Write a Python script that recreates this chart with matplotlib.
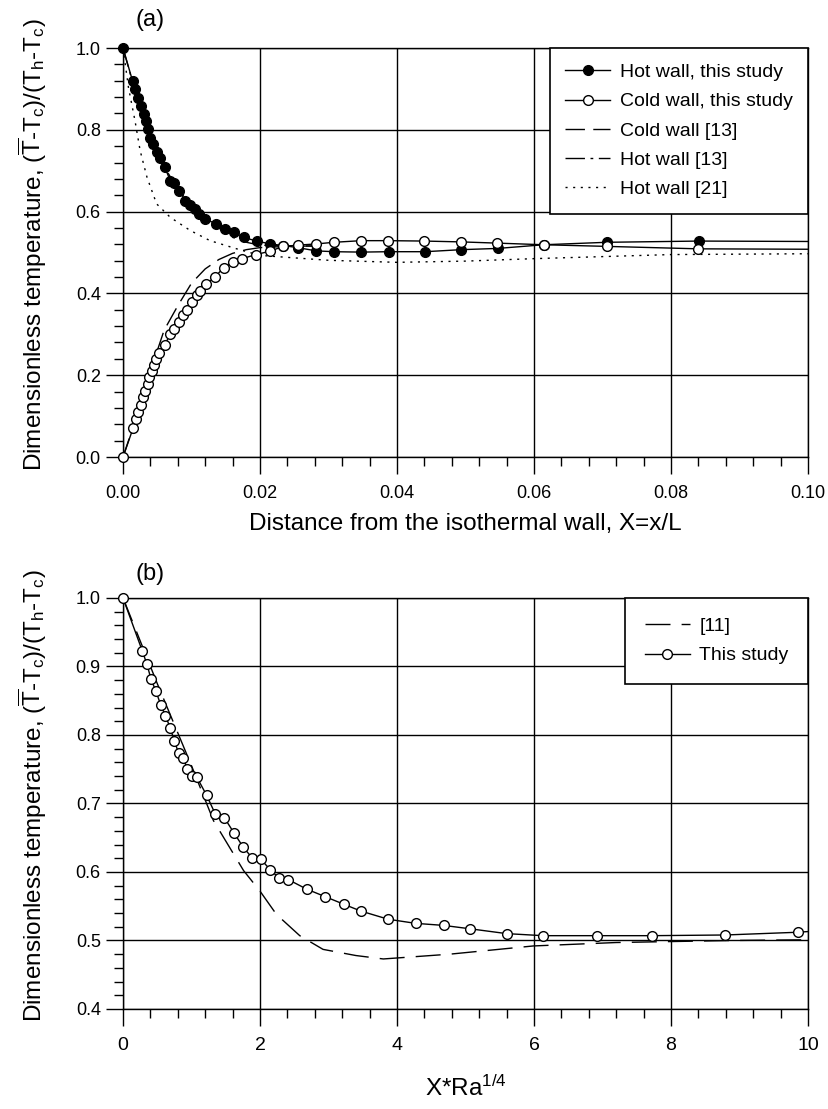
import matplotlib
matplotlib.use("Agg")
import matplotlib.pyplot as plt
from matplotlib.ticker import MultipleLocator

plt.rcParams['font.family'] = ['Liberation Sans', 'DejaVu Sans']
plt.rcParams['mathtext.default'] = 'regular'

# ---- panel (a) data ----
hot_x = [0.0, 0.0014, 0.00175, 0.0022, 0.0026, 0.0030, 0.0034, 0.0037, 0.0040, 0.0044,
         0.0049, 0.0054, 0.0061, 0.0069, 0.0075, 0.0082, 0.0091, 0.0098, 0.0105, 0.0111,
         0.0120, 0.0136, 0.0149, 0.0162, 0.0176, 0.0195, 0.0215, 0.0234, 0.0255, 0.0282,
         0.0308, 0.0348, 0.0388, 0.0441, 0.0494, 0.0547, 0.0614, 0.0706, 0.0841, 0.100]
hot_y = [1.0, 0.919, 0.899, 0.879, 0.859, 0.838, 0.822, 0.802, 0.781, 0.765,
         0.745, 0.732, 0.708, 0.676, 0.671, 0.651, 0.627, 0.615, 0.607, 0.593,
         0.582, 0.570, 0.558, 0.550, 0.537, 0.528, 0.521, 0.517, 0.512, 0.504,
         0.502, 0.501, 0.502, 0.502, 0.507, 0.510, 0.519, 0.525, 0.528, 0.527]

cold_x = [0.0, 0.0015, 0.0019, 0.0022, 0.0026, 0.0029, 0.0032, 0.0036, 0.0038, 0.0042,
          0.0045, 0.0048, 0.0052, 0.0061, 0.0069, 0.0074, 0.0081, 0.0087, 0.0094, 0.0101,
          0.0108, 0.0113, 0.0121, 0.0134, 0.0147, 0.0161, 0.0174, 0.0194, 0.0214, 0.0234,
          0.0255, 0.0282, 0.0308, 0.0348, 0.0387, 0.0440, 0.0493, 0.0546, 0.0614, 0.0706,
          0.0840, 0.100]
cold_y = [0.0, 0.072, 0.092, 0.110, 0.127, 0.146, 0.161, 0.178, 0.196, 0.211,
          0.224, 0.239, 0.255, 0.275, 0.300, 0.312, 0.330, 0.348, 0.359, 0.379,
          0.395, 0.407, 0.422, 0.440, 0.463, 0.476, 0.485, 0.495, 0.503, 0.515,
          0.518, 0.521, 0.525, 0.529, 0.529, 0.528, 0.526, 0.523, 0.519, 0.515,
          0.509, 0.508]

ref13_x = [0.0, 0.002, 0.004, 0.006, 0.008, 0.010, 0.012, 0.014, 0.016, 0.018, 0.020, 0.024, 0.028]
cold13_y = [0.0, 0.10, 0.21, 0.31, 0.37, 0.425, 0.46, 0.483, 0.498, 0.507, 0.512, 0.515, 0.516]
hot13_y = [1.0, 0.88, 0.79, 0.71, 0.655, 0.615, 0.585, 0.560, 0.537, 0.525, 0.518, 0.516, 0.516]

ref21_x = [0.0, 0.0008, 0.00175, 0.0025, 0.0035, 0.0049, 0.0069, 0.0098, 0.0127, 0.0166,
           0.020, 0.0258, 0.030, 0.040, 0.050, 0.060, 0.070, 0.080, 0.090, 0.100]
ref21_y = [1.0, 0.903, 0.822, 0.749, 0.684, 0.619, 0.586, 0.554, 0.529, 0.509,
           0.493, 0.486, 0.481, 0.476, 0.479, 0.485, 0.490, 0.495, 0.496, 0.497]

# ---- panel (b) data ----
study_x = [0.0, 0.28, 0.35, 0.41, 0.48, 0.55, 0.62, 0.69, 0.75, 0.81, 0.88, 0.94, 1.01, 1.08,
           1.22, 1.35, 1.48, 1.62, 1.75, 1.88, 2.01, 2.15, 2.28, 2.41, 2.68, 2.95, 3.22,
           3.47, 3.87, 4.27, 4.68, 5.07, 5.60, 6.13, 6.92, 7.72, 8.79, 9.85, 10.0]
study_y = [1.0, 0.923, 0.903, 0.881, 0.864, 0.844, 0.828, 0.810, 0.791, 0.774, 0.766, 0.750,
           0.740, 0.738, 0.712, 0.684, 0.679, 0.657, 0.637, 0.621, 0.619, 0.603, 0.591,
           0.589, 0.575, 0.564, 0.553, 0.543, 0.531, 0.525, 0.522, 0.517, 0.510, 0.507,
           0.507, 0.507, 0.508, 0.512, 0.513]

ref11_x = [0.0, 0.5, 1.0, 1.32, 1.76, 2.0, 2.24, 2.58, 2.92, 3.4, 3.8, 4.77, 5.99, 7.2, 8.9, 10.0]
ref11_y = [1.0, 0.875, 0.755, 0.675, 0.602, 0.572, 0.538, 0.507, 0.487, 0.478, 0.473,
           0.480, 0.492, 0.497, 0.500, 0.501]

fig = plt.figure(figsize=(8.29, 11.09), dpi=100)
ax1 = fig.add_axes([0.1484, 0.5879, 0.8263, 0.3688])
ax2 = fig.add_axes([0.1484, 0.0902, 0.8263, 0.3706])

# last point sits on the right edge and carries no marker
ax1.plot(hot_x, hot_y, '-o', color='black', lw=1.0, ms=7, mfc='black', mec='black',
         markevery=list(range(len(hot_x) - 1)), clip_on=False,
         label='Hot wall, this study', zorder=4)
ax1.plot(cold_x, cold_y, '-o', color='black', lw=1.0, ms=7, mfc='white', mec='black',
         mew=1.0, markevery=list(range(len(cold_x) - 1)), clip_on=False,
         label='Cold wall, this study', zorder=5)
ax1.plot(ref13_x, cold13_y, color='black', lw=1.0, dashes=(14, 6), label='Cold wall [13]', zorder=3)
ax1.plot(ref13_x, hot13_y, color='black', lw=1.0, dashes=(14, 4, 2, 4), label='Hot wall [13]', zorder=3)
ax1.plot(ref21_x, ref21_y, color='black', lw=1.0, dashes=(1.5, 4), label='Hot wall [21]', zorder=3)

ax2.plot(ref11_x, ref11_y, color='black', lw=1.0, dashes=(18, 8), label='[11]', zorder=3)
ax2.plot(study_x, study_y, '-o', color='black', lw=1.0, ms=7, mfc='white', mec='black',
         mew=1.0, markevery=list(range(len(study_x) - 1)), clip_on=False,
         label='This study', zorder=5)

ax1.set_xlim(0, 0.1)
ax1.set_ylim(0, 1.0)
ax1.xaxis.set_major_locator(MultipleLocator(0.02))
ax1.xaxis.set_minor_locator(MultipleLocator(0.004))
ax1.yaxis.set_major_locator(MultipleLocator(0.2))
ax1.yaxis.set_minor_locator(MultipleLocator(0.04))
ax1.xaxis.set_major_formatter(plt.FuncFormatter(lambda v, p: f'{v:.2f}'))
ax1.yaxis.set_major_formatter(plt.FuncFormatter(lambda v, p: f'{v:.1f}'))

ax2.set_xlim(0, 10)
ax2.set_ylim(0.4, 1.0)
ax2.xaxis.set_major_locator(MultipleLocator(2))
ax2.xaxis.set_minor_locator(MultipleLocator(0.4))
ax2.yaxis.set_major_locator(MultipleLocator(0.1))
ax2.yaxis.set_minor_locator(MultipleLocator(0.02))
ax2.yaxis.set_major_formatter(plt.FuncFormatter(lambda v, p: f'{v:.1f}'))

ylab = r'Dimensionless temperature, ($\overline{T}$-T$_c$)/(T$_h$-T$_c$)'
for ax in (ax1, ax2):
    ax.grid(True, which='major', color='black', lw=1.0)
    ax.set_axisbelow(True)
    for s in ax.spines.values():
        s.set_linewidth(1.0)
    ax.tick_params(which='major', direction='out', length=12, width=1.0, labelsize=13, pad=8)
    ax.tick_params(which='minor', direction='out', length=6.5, width=1.0)
    ax.tick_params(axis='y', which='major', pad=4)
    ax.set_ylabel(ylab, fontsize=17.5)
    ax.yaxis.set_label_coords(-0.108, 0.52)

ax1.set_xlabel('Distance from the isothermal wall, X=x/L', fontsize=17.5, labelpad=8)
ax2.set_xlabel(r'X*Ra$^{1/4}$', fontsize=17.5, labelpad=16)
ax2.tick_params(axis='x', which='major', labelsize=14)

leg1 = ax1.legend(loc='upper right', borderaxespad=0, fancybox=False, edgecolor='black',
                  framealpha=1, fontsize=14, handlelength=2.3, handletextpad=0.5,
                  borderpad=0.8, labelspacing=0.6)
leg1.get_frame().set_linewidth(1.2)
leg2 = ax2.legend(loc='upper right', borderaxespad=0, fancybox=False, edgecolor='black',
                  framealpha=1, fontsize=14, handlelength=2.3, handletextpad=0.5,
                  borderpad=1.0, labelspacing=0.6)
leg2.get_frame().set_linewidth(1.2)

fig.text(0.181, 0.982, '(a)', fontsize=17, ha='center', va='center')
fig.text(0.181, 0.482, '(b)', fontsize=17, ha='center', va='center')

fig.savefig('out.png', dpi=100)
